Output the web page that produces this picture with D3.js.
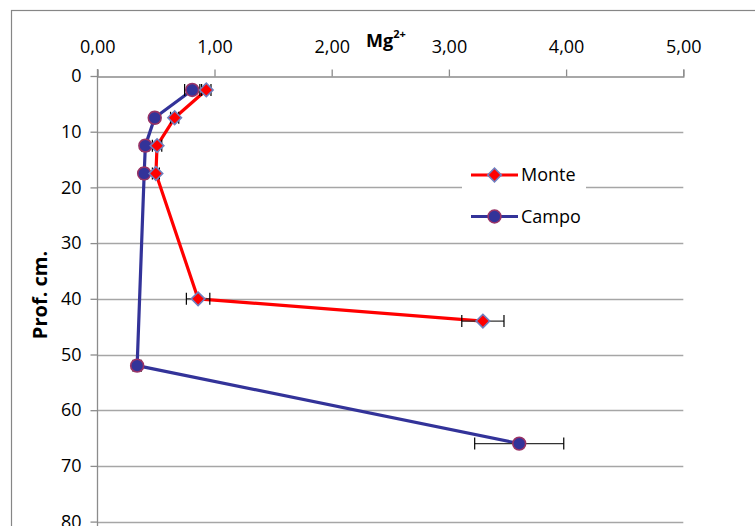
<!DOCTYPE html>
<html>
<head>
<meta charset="utf-8">
<script src="https://cdn.jsdelivr.net/npm/d3@7"></script>
<style>
  body { margin: 0; background: #fff; }
  svg { display: block; font-family: "Open Sans", sans-serif; }
</style>
</head>
<body>
<div id="chart"></div>
<script>
// depth (cm) and Mg2+ values
const monteDepth = [2.5, 7.5, 12.5, 17.5, 40, 44];
const monteMg = [0.93, 0.66, 0.51, 0.50, 0.86, 3.29];
const monteErr = [0.04, 0.035, 0.04, 0.03, 0.10, 0.18];

const campoDepth = [2.5, 7.5, 12.5, 17.5, 52, 66];
const campoMg = [0.81, 0.49, 0.41, 0.40, 0.34, 3.60];
const campoErr = [0.065, 0.03, 0.03, 0.03, 0.035, 0.38];

const xTicks = [0, 1, 2, 3, 4, 5];
const yTicks = [0, 10, 20, 30, 40, 50, 60, 70, 80];

const width = 755;
const height = 526;

const svg = d3.select('#chart').append('svg')
  .attr('width', width)
  .attr('height', height);

// outer chart frame (runs off the right and bottom of the picture)
svg.append('rect')
  .attr('x', 11.5).attr('y', 10.5)
  .attr('width', 800).attr('height', 600)
  .attr('fill', 'none')
  .attr('stroke', '#868686')
  .attr('stroke-width', 1.2);

const x = d3.scaleLinear().domain([0, 5]).range([97.3, 683.3]);
const y = d3.scaleLinear().domain([0, 80]).range([76, 521.6]);

const g = svg.append('g');

// horizontal gridlines
g.selectAll('.grid')
  .data(yTicks.slice(1))
  .enter()
  .append('line')
  .attr('class', 'grid')
  .attr('x1', x(0)).attr('x2', x(5))
  .attr('y1', d => Math.round(y(d)) + 0.5)
  .attr('y2', d => Math.round(y(d)) + 0.5)
  .attr('stroke', '#a6a6a6')
  .attr('stroke-width', 1.3);

// top x axis
const xAxis = d3.axisTop(x)
  .tickValues(xTicks)
  .tickSize(7)
  .tickPadding(17)
  .tickFormat(d => d3.format('.2f')(d).replace('.', ','));

const gx = svg.append('g')
  .attr('transform', `translate(0,${Math.round(y(0)) + 0.5})`)
  .call(xAxis);
gx.select('.domain').attr('stroke', '#8c8c8c').attr('stroke-width', 1.3);
gx.selectAll('.tick line').attr('stroke', '#8c8c8c').attr('stroke-width', 1.3);
gx.selectAll('text').attr('font-size', 18).attr('fill', '#000')
  .attr('font-family', '"Open Sans", sans-serif');

// left y axis
const yAxis = d3.axisLeft(y)
  .tickValues(yTicks)
  .tickSize(7)
  .tickPadding(9);

const gy = svg.append('g')
  .attr('transform', `translate(${Math.round(x(0)) + 0.5},0)`)
  .call(yAxis);
gy.select('.domain').attr('stroke', '#8c8c8c').attr('stroke-width', 1.3)
  .attr('d', `M0,69V${height + 10}`);
gy.selectAll('.tick line').attr('stroke', '#8c8c8c').attr('stroke-width', 1.3);
gy.selectAll('text').attr('font-size', 18).attr('fill', '#000')
  .attr('font-family', '"Open Sans", sans-serif');

// axis titles
const title = svg.append('text')
  .attr('x', 366).attr('y', 46.5)
  .attr('font-size', 18).attr('font-weight', 'bold');
title.append('tspan').text('Mg');
title.append('tspan').attr('dy', -9).attr('font-size', 11).text('2+');

svg.append('text')
  .attr('transform', 'translate(47,295) rotate(-90)')
  .attr('text-anchor', 'middle')
  .attr('font-size', 20)
  .attr('font-weight', 'bold')
  .text('Prof. cm.');

const series = [
  { name: 'Monte', depth: monteDepth, mg: monteMg, err: monteErr,
    color: '#ff0000', fill: '#ff0000', stroke: '#6f7fbf', diamond: true },
  { name: 'Campo', depth: campoDepth, mg: campoMg, err: campoErr,
    color: '#333399', fill: '#333399', stroke: '#993366', diamond: false },
];

// diamond = square turned 45 degrees, so it is as wide as it is tall
function marker(s) {
  return s.diamond
    ? d3.symbol().type(d3.symbolSquare).size(92)()
    : d3.symbol().type(d3.symbolCircle).size(130)();
}
function markerRot(s) {
  return s.diamond ? ' rotate(45)' : '';
}

const line = d3.line()
  .x(d => x(d.v))
  .y(d => y(d.d));

function rows(s) {
  return s.depth.map((d, i) => ({ d, v: s.mg[i], e: s.err[i] }));
}

// draw Campo first, Monte on top
const order = [series[1], series[0]];

order.forEach(s => {
  g.append('path')
    .datum(rows(s))
    .attr('d', line)
    .attr('fill', 'none')
    .attr('stroke', s.color)
    .attr('stroke-width', 3.2)
    .attr('stroke-linejoin', 'round');
});

order.forEach(s => {
  const eb = g.selectAll(null)
    .data(rows(s))
    .enter()
    .append('g');
  eb.append('line')
    .attr('x1', d => x(d.v - d.e)).attr('x2', d => x(d.v + d.e))
    .attr('y1', d => y(d.d)).attr('y2', d => y(d.d))
    .attr('stroke', '#333').attr('stroke-width', 1.2);
  eb.append('line')
    .attr('x1', d => x(d.v - d.e)).attr('x2', d => x(d.v - d.e))
    .attr('y1', d => y(d.d) - 6).attr('y2', d => y(d.d) + 6)
    .attr('stroke', '#000').attr('stroke-width', 1.2);
  eb.append('line')
    .attr('x1', d => x(d.v + d.e)).attr('x2', d => x(d.v + d.e))
    .attr('y1', d => y(d.d) - 6).attr('y2', d => y(d.d) + 6)
    .attr('stroke', '#000').attr('stroke-width', 1.2);
});

order.forEach(s => {
  g.selectAll(null)
    .data(rows(s))
    .enter()
    .append('path')
    .attr('transform', d => `translate(${x(d.v)},${y(d.d)})${markerRot(s)}`)
    .attr('d', marker(s))
    .attr('fill', s.fill)
    .attr('stroke', s.stroke)
    .attr('stroke-width', 1.6);
});

// legend
const legend = svg.append('g');
legend.append('rect')
  .attr('x', 462).attr('y', 158)
  .attr('width', 124).attr('height', 80)
  .attr('fill', '#fff');

series.forEach((s, i) => {
  const ly = 175 + i * 41.5;
  legend.append('line')
    .attr('x1', 471).attr('x2', 518)
    .attr('y1', ly).attr('y2', ly)
    .attr('stroke', s.color).attr('stroke-width', 3.2);
  legend.append('path')
    .attr('transform', `translate(494.5,${ly})${markerRot(s)}`)
    .attr('d', marker(s))
    .attr('fill', s.fill)
    .attr('stroke', s.stroke)
    .attr('stroke-width', 1.6);
  legend.append('text')
    .attr('x', 521).attr('y', ly)
    .attr('dy', '0.35em')
    .attr('font-size', 18)
    .text(s.name);
});
</script>
</body>
</html>
